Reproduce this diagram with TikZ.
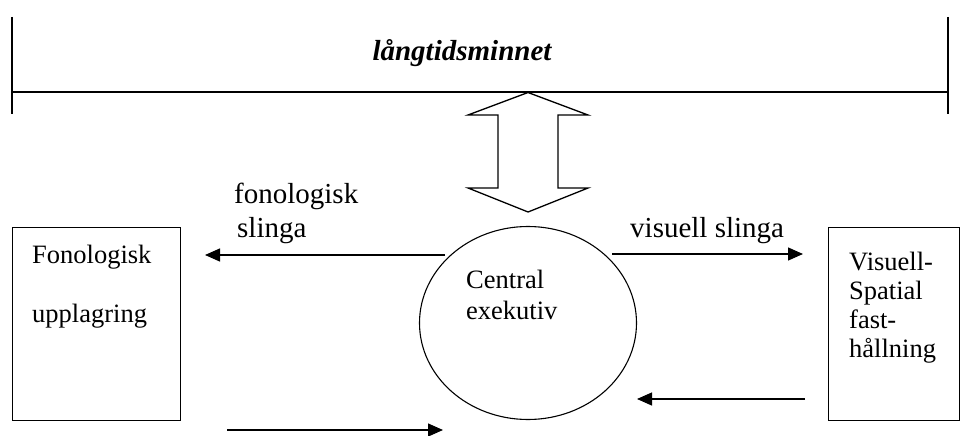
\documentclass[tikz,border=0pt]{standalone}
\usepackage{fontspec}
\setmainfont{Liberation Serif}
\usetikzlibrary{arrows.meta,shapes.geometric}
\tikzset{
  ln/.style={line width=1.3pt},
  boxshape/.style={draw,line width=1.3pt,inner sep=0pt,anchor=north west},
  txt/.style={anchor=base west,inner sep=0pt,font=\fontsize{26.5}{30}\selectfont},
  lbl/.style={anchor=base west,inner sep=0pt,font=\fontsize{29}{33}\selectfont},
  arr/.style={line width=1.3pt,-{Triangle[length=15pt,width=13pt]}},
}
\begin{document}
\begin{tikzpicture}[x=1pt,y=-1pt]
\useasboundingbox (0,0) rectangle (961,436);
% long-term memory bar
\coordinate (tl1) at (12,17);
\coordinate (tl2) at (12,114);
\coordinate (tr1) at (948,17);
\coordinate (tr2) at (948,114);
\coordinate (hl) at (12,92);
\coordinate (hr) at (948,92);
\draw[ln] (tl1) -- (tl2);
\draw[ln] (tr1) -- (tr2);
\draw[line width=1.5pt] (hl) -- (hr);
\node[anchor=base,inner sep=0pt,font=\fontsize{29}{33}\selectfont\bfseries\itshape] (ltm) at (462,60) {långtidsminnet};
% double arrow
\draw[line width=1.3pt,line join=miter] (528,92.5) -- (588,115) -- (558,115) -- (558,188) -- (588,188) -- (528,212)
  -- (468,188) -- (498,188) -- (498,115) -- (468,115) -- cycle;
% boxes
\node[boxshape,minimum width=168pt,minimum height=193pt] (fon) at (12,227) {};
\node[boxshape,minimum width=131pt,minimum height=193pt] (vis) at (828,227) {};
% central executive
\node[draw,ellipse,line width=1.1pt,minimum width=217pt,minimum height=193pt,inner sep=0pt] (ce) at (528,323) {};
% texts
\node[txt] (t1) at (32,263) {Fonologisk};
\node[txt] (t2) at (32,322) {upplagring};
\node[txt] (t3) at (466,288) {Central};
\node[txt] (t4) at (466,319) {exekutiv};
\node[txt] (t5) at (849,270) {Visuell-};
\node[txt] (t6) at (849,299) {Spatial};
\node[txt] (t7) at (849,328) {fast-};
\node[txt] (t8) at (849,357) {hållning};
\node[lbl] (l1) at (234,203) {fonologisk};
\node[lbl] (l2) at (237,237) {slinga};
\node[lbl] (l3) at (630,237) {visuell slinga};
% arrows
\coordinate (a1s) at (445,255);
\coordinate (a1e) at (205,255);
\coordinate (a2s) at (612,254);
\coordinate (a2e) at (803,254);
\coordinate (a3s) at (805,399);
\coordinate (a3e) at (637,399);
\coordinate (a4s) at (227,430);
\coordinate (a4e) at (443,430);
\draw[arr] (a1s) -- (a1e);
\draw[arr] (a2s) -- (a2e);
\draw[arr] (a3s) -- (a3e);
\draw[arr] (a4s) -- (a4e);
\end{tikzpicture}
\end{document}
